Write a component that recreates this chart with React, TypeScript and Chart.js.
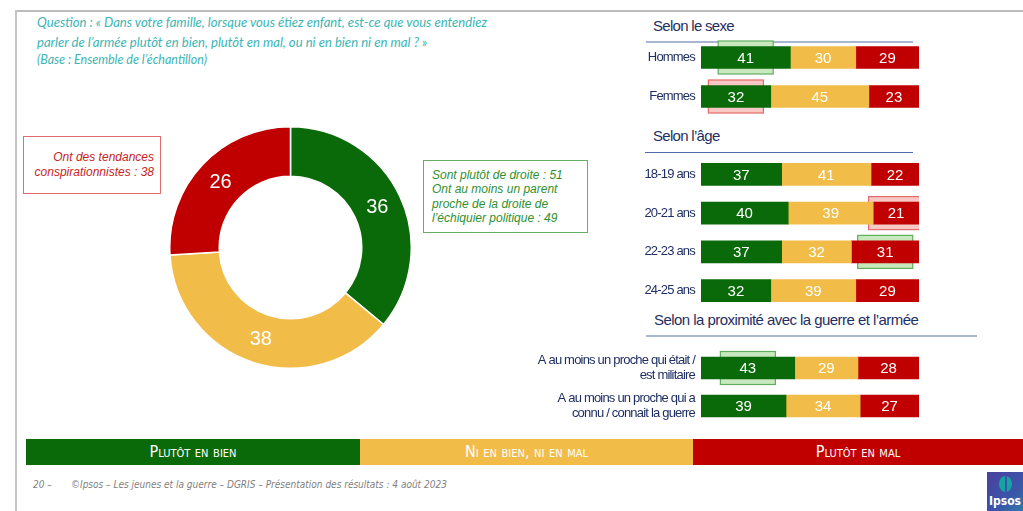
import React, { useEffect, useRef } from 'react';
import { Chart, registerables } from 'chart.js';

Chart.register(...registerables);

// ---------- data ----------
const seriesNames = ['Plutôt en bien', 'Ni en bien, ni en mal', 'Plutôt en mal'];
const seriesColors = ['#0a6a0a', '#f1bd48', '#c00000'];

const overallValues = [36, 38, 26];

const sexLabels = ['Hommes', 'Femmes'];
const sexBien = [41, 32];
const sexNi = [30, 45];
const sexMal = [29, 23];

const ageLabels = ['18-19 ans', '20-21 ans', '22-23 ans', '24-25 ans'];
const ageBien = [37, 40, 37, 32];
const ageNi = [41, 39, 32, 39];
const ageMal = [22, 21, 31, 29];

const proxLabels = [
  ['A au moins un proche qui était /', 'est militaire'],
  ['A au moins un proche qui a', 'connu / connait la guerre'],
];
const proxBien = [43, 39];
const proxNi = [29, 34];
const proxMal = [28, 27];

// significance markers: [row, series, 'up' | 'down']
const sexMarks: [number, number, string][] = [[0, 0, 'up'], [1, 0, 'down']];
const ageMarks: [number, number, string][] = [[1, 2, 'down'], [2, 2, 'up']];
const proxMarks: [number, number, string][] = [[0, 0, 'up']];

const questionLines = [
  'Question : « Dans votre famille, lorsque vous étiez enfant, est-ce que vous entendiez',
  'parler de l’armée plutôt en bien, plutôt en mal, ou ni en bien ni en mal ? »',
];
const baseLine = '(Base : Ensemble de l’échantillon)';
const redNote = ['Ont des tendances', 'conspirationnistes : 38'];
const greenNote = [
  'Sont plutôt de droite : 51',
  'Ont au moins un parent',
  'proche de la droite de',
  'l’échiquier politique : 49',
];
const sectionTitles = ['Selon le sexe', 'Selon l’âge', 'Selon la proximité avec la guerre et l’armée'];
const footerNum = '20 –';
const footerText = '©Ipsos – Les jeunes et la guerre – DGRIS – Présentation des résultats : 4 août 2023';

// ---------- styles ----------
const NAVY = '#1f2f63';
const SANS = "'Liberation Sans', Arial, sans-serif";
const NARROW = "'Liberation Sans Narrow', 'DejaVu Sans Condensed', sans-serif";

function StackedBars(props: {
  labels: any[];
  bien: number[];
  ni: number[];
  mal: number[];
  marks: [number, number, string][];
  top: number;
  height: number;
}) {
  const ref = useRef<HTMLCanvasElement>(null);
  useEffect(() => {
    const { labels, bien, ni, mal, marks } = props;
    const sigPlugin = {
      id: 'sigMarks',
      beforeDatasetsDraw(chart: any) {
        const ctx = chart.ctx;
        (ctx as any).letterSpacing = '0px';
        marks.forEach(([row, ds, dir]) => {
          const el = chart.getDatasetMeta(ds).data[row];
          const c = el.getCenterPoint();
          const w = 55;
          const h = 33;
          ctx.save();
          ctx.fillStyle = dir === 'up' ? '#c9e8bd' : '#f8c9c4';
          ctx.strokeStyle = dir === 'up' ? '#5fae5f' : '#e46a6a';
          ctx.lineWidth = 1.2;
          ctx.fillRect(c.x - w / 2, c.y - h / 2, w, h);
          ctx.strokeRect(c.x - w / 2, c.y - h / 2, w, h);
          ctx.restore();
        });
      },
    };
    const valuePlugin = {
      id: 'values',
      afterDatasetsDraw(chart: any) {
        const ctx = chart.ctx;
        ctx.save();
        (ctx as any).letterSpacing = '0px';
        ctx.fillStyle = '#ffffff';
        ctx.font = `15px ${SANS}`;
        ctx.textAlign = 'center';
        ctx.textBaseline = 'middle';
        chart.data.datasets.forEach((d: any, di: number) => {
          chart.getDatasetMeta(di).data.forEach((el: any, i: number) => {
            const c = el.getCenterPoint();
            ctx.fillText(String(d.data[i]), c.x, c.y + 1);
          });
        });
        ctx.restore();
      },
    };
    const spacingPlugin = {
      id: 'spacing',
      beforeDraw(chart: any) {
        (chart.ctx as any).letterSpacing = '-0.8px';
      },
    };
    const chart = new Chart(ref.current!, {
      type: 'bar',
      data: {
        labels,
        datasets: [
          { label: seriesNames[0], data: bien, backgroundColor: seriesColors[0] },
          { label: seriesNames[1], data: ni, backgroundColor: seriesColors[1] },
          { label: seriesNames[2], data: mal, backgroundColor: seriesColors[2] },
        ],
      },
      options: {
        indexAxis: 'y',
        responsive: false,
        animation: false,
        layout: { padding: 0 },
        datasets: { bar: { barThickness: 22 } } as any,
        scales: {
          x: { stacked: true, min: 0, max: 100, display: false },
          y: {
            stacked: true,
            grid: { display: false, drawTicks: false },
            border: { display: false },
            ticks: {
              color: NAVY,
              padding: 6,
              font: { family: SANS, size: 13, lineHeight: 1.1 },
            },
            afterFit: (s: any) => {
              s.width = 181;
              s.paddingTop = 0;
              s.paddingBottom = 0;
            },
          },
        },
        plugins: { legend: { display: false }, tooltip: { enabled: false } },
      },
      plugins: [spacingPlugin, sigPlugin, valuePlugin],
    });
    return () => chart.destroy();
  }, []);
  return (
    <canvas
      ref={ref}
      width={399}
      height={props.height}
      style={{ position: 'absolute', left: 520, top: props.top, width: 399, height: props.height }}
    />
  );
}

function Donut() {
  const ref = useRef<HTMLCanvasElement>(null);
  useEffect(() => {
    const labelPlugin = {
      id: 'donutLabels',
      afterDatasetsDraw(chart: any) {
        const ctx = chart.ctx;
        ctx.save();
        ctx.fillStyle = '#ffffff';
        ctx.font = `20px ${SANS}`;
        ctx.textAlign = 'center';
        ctx.textBaseline = 'middle';
        chart.getDatasetMeta(0).data.forEach((arc: any, i: number) => {
          const p = arc.tooltipPosition();
          ctx.fillText(String(overallValues[i]), p.x, p.y + 1);
        });
        ctx.restore();
      },
    };
    const chart = new Chart(ref.current!, {
      type: 'doughnut',
      data: {
        labels: seriesNames,
        datasets: [
          {
            data: overallValues,
            backgroundColor: seriesColors,
            borderColor: '#ffffff',
            borderWidth: 1.5,
          },
        ],
      },
      options: {
        responsive: false,
        animation: false,
        cutout: '59%',
        layout: { padding: 0 },
        plugins: { legend: { display: false }, tooltip: { enabled: false } },
      },
      plugins: [labelPlugin],
    });
    return () => chart.destroy();
  }, []);
  return (
    <canvas
      ref={ref}
      width={243}
      height={243}
      style={{ position: 'absolute', left: 169, top: 126, width: 243, height: 243 }}
    />
  );
}

const abs = (s: React.CSSProperties): React.CSSProperties => ({ position: 'absolute', ...s });

export default function App() {
  const headerStyle: React.CSSProperties = {
    position: 'absolute',
    left: 653,
    fontFamily: SANS,
    fontSize: 15,
    lineHeight: '18px',
    letterSpacing: '-0.7px',
    color: NAVY,
    whiteSpace: 'nowrap',
  };
  const footerStyle: React.CSSProperties = {
    position: 'absolute',
    top: 478,
    fontFamily: NARROW,
    fontStyle: 'italic',
    fontSize: 10,
    lineHeight: '14px',
    color: '#7f7f7f',
    whiteSpace: 'nowrap',
  };
  const legendLefts = [26, 360, 693];
  const legendWidths = [334, 333, 330];
  return (
    <div
      style={{
        position: 'fixed',
        left: 0,
        top: 0,
        width: 1023,
        height: 511,
        background: '#ffffff',
        overflow: 'hidden',
      }}
    >
      {/* frame */}
      <div style={abs({ left: 15, top: 10, width: 1008, height: 1.5, background: '#bdbdbd' })} />
      <div style={abs({ left: 15, top: 10, width: 1.5, height: 501, background: '#c4c4c4' })} />

      {/* question */}
      <div
        style={abs({
          left: 37,
          top: 12,
          fontFamily: "Lato, 'Open Sans', sans-serif",
          fontStyle: 'italic',
          fontSize: 13.1,
          lineHeight: '20px',
          color: '#3db5b5',
          whiteSpace: 'nowrap',
        })}
      >
        {questionLines.map((l, i) => (
          <div key={i}>{l}</div>
        ))}
        <div style={{ fontSize: 12.5, lineHeight: '15px' }}>{baseLine}</div>
      </div>

      {/* red note */}
      <div
        style={abs({
          left: 23,
          top: 136,
          width: 138,
          height: 58,
          border: '1.5px solid #e26b6b',
          boxSizing: 'border-box',
        })}
      />
      <div
        style={abs({
          left: 23,
          top: 150,
          width: 131,
          textAlign: 'right',
          fontFamily: SANS,
          fontStyle: 'italic',
          fontSize: 12,
          lineHeight: '15px',
          color: '#c81e1e',
          whiteSpace: 'nowrap',
        })}
      >
        {redNote.map((l, i) => (
          <div key={i}>{l}</div>
        ))}
      </div>

      {/* green note */}
      <div
        style={abs({
          left: 423,
          top: 160,
          width: 165,
          height: 73,
          border: '1.5px solid #66ad66',
          boxSizing: 'border-box',
        })}
      />
      <div
        style={abs({
          left: 432,
          top: 167.5,
          fontFamily: SANS,
          fontStyle: 'italic',
          fontSize: 12,
          lineHeight: '14.5px',
          color: '#2f8f2f',
          whiteSpace: 'nowrap',
        })}
      >
        {greenNote.map((l, i) => (
          <div key={i}>{l}</div>
        ))}
      </div>

      <Donut />

      {/* section headers */}
      <div style={{ ...headerStyle, top: 17 }}>{sectionTitles[0]}</div>
      <div style={abs({ left: 646, top: 41, width: 267, height: 2, background: '#a9b6cf' })} />
      <div style={{ ...headerStyle, top: 127 }}>{sectionTitles[1]}</div>
      <div style={abs({ left: 645, top: 151.5, width: 268, height: 1.5, background: '#4f6cab' })} />
      <div style={{ ...headerStyle, top: 311, left: 654, letterSpacing: '-0.55px' }}>{sectionTitles[2]}</div>
      <div style={abs({ left: 646, top: 335, width: 331, height: 2, background: '#a9b6cf' })} />

      <StackedBars labels={sexLabels} bien={sexBien} ni={sexNi} mal={sexMal} marks={sexMarks} top={38} height={78} />
      <StackedBars labels={ageLabels} bien={ageBien} ni={ageNi} mal={ageMal} marks={ageMarks} top={155} height={155} />
      <StackedBars labels={proxLabels} bien={proxBien} ni={proxNi} mal={proxMal} marks={proxMarks} top={349} height={76} />

      {/* legend band */}
      {seriesNames.map((n, i) => (
        <div
          key={n}
          style={abs({
            left: legendLefts[i],
            top: 439,
            width: legendWidths[i],
            height: 26,
            background: seriesColors[i],
            color: '#ffffff',
            fontFamily: NARROW,
            fontVariant: 'small-caps',
            fontSize: 16,
            lineHeight: '26px',
            textAlign: 'center',
            whiteSpace: 'nowrap',
          })}
        >
          {n}
        </div>
      ))}

      {/* footer */}
      <div style={{ ...footerStyle, left: 33 }}>{footerNum}</div>
      <div style={{ ...footerStyle, left: 71 }}>{footerText}</div>

      {/* Ipsos logo */}
      <div
        style={abs({
          left: 987,
          top: 472,
          width: 40,
          height: 40,
          background: 'linear-gradient(135deg, #4b3f9f 0%, #3a56a8 60%, #2f7fa8 100%)',
        })}
      >
        <div
          style={abs({
            left: 12,
            top: 4,
            width: 13,
            height: 16,
            borderRadius: '50%',
            background: '#17a3a3',
          })}
        />
        <div style={abs({ left: 17.5, top: 4, width: 2, height: 16, background: '#3a56a8' })} />
        <div
          style={abs({
            left: 2,
            top: 22,
            fontFamily: NARROW,
            fontWeight: 'bold',
            fontSize: 12,
            lineHeight: '14px',
            color: '#ffffff',
          })}
        >
          Ipsos
        </div>
      </div>
    </div>
  );
}
